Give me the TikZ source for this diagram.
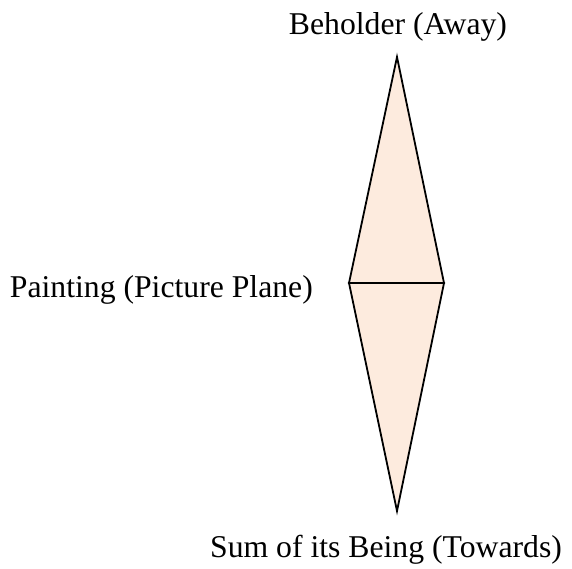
\documentclass[tikz,border=0pt]{standalone}
\usepackage{fontspec}
\setmainfont{Liberation Serif}
\definecolor{peach}{RGB}{253,235,222}
\begin{document}
\begin{tikzpicture}[x=1pt,y=-1pt,
  lbl/.style={inner sep=0pt,font=\fontsize{31.7}{36}\selectfont},
  edge/.style={draw=black,line width=1.8pt,line join=miter}]
\useasboundingbox (0,0) rectangle (572,568);
\coordinate (top) at (397,57);
\coordinate (left) at (349,283);
\coordinate (right) at (444,283);
\coordinate (bot) at (397,511);
\fill[peach] (top) -- (right) -- (bot) -- (left) -- cycle;
\draw[edge] (top) -- (right) -- (left) -- cycle;
\draw[edge] (bot) -- (right) -- (left) -- cycle;
\node[lbl] (beh) at (398,27) {Beholder (Away)};
\node[lbl,anchor=east] (pai) at (313,290) {Painting (Picture Plane)};
\node[lbl] (sum) at (386,550) {Sum of its Being (Towards)};
\end{tikzpicture}
\end{document}
